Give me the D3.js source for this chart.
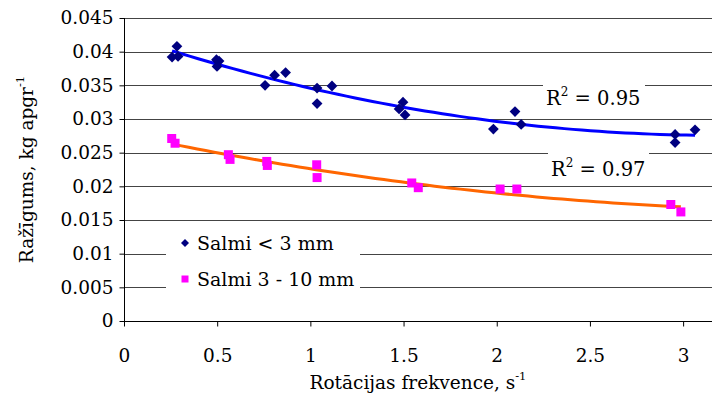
<!DOCTYPE html>
<html>
<head>
<meta charset="utf-8">
<script src="https://cdn.jsdelivr.net/npm/d3@7/dist/d3.min.js"></script>
<style>
  html, body { margin: 0; padding: 0; background: #fff; }
  svg { display: block; }
</style>
</head>
<body>
<svg id="chart" width="714" height="396"></svg>
<script>
// ---- data ----
const seriesNames = ["Salmi < 3 mm", "Salmi 3 - 10 mm"];

const xSmall = [0.258, 0.284, 0.290, 0.496, 0.510, 0.499, 0.757, 0.808, 0.867,
                1.036, 1.036, 1.116, 1.497, 1.476, 1.508, 1.982, 2.098, 2.131,
                2.957, 2.957, 3.064];
const ySmall = [0.0392, 0.0408, 0.0393, 0.0388, 0.0386, 0.0378, 0.0350, 0.0365, 0.0369,
                0.0346, 0.0323, 0.0349, 0.0325, 0.0315, 0.0306, 0.0285, 0.0311, 0.0292,
                0.0277, 0.0265, 0.0284];

const xLarge = [0.256, 0.274, 0.560, 0.569, 0.766, 0.769, 1.034, 1.036,
                1.544, 1.579, 2.018, 2.108, 2.934, 2.988];
const yLarge = [0.0271, 0.0264, 0.0247, 0.0240, 0.0237, 0.0231, 0.0232, 0.0213,
                0.0205, 0.0198, 0.0196, 0.0196, 0.0173, 0.0162];

const r2Labels = ["0.95", "0.97"];

const xTicks = [0, 0.5, 1, 1.5, 2, 2.5, 3];
const yTicks = [0, 0.005, 0.01, 0.015, 0.02, 0.025, 0.03, 0.035, 0.04, 0.045];

const xTitle = "Rotācijas frekvence, s";
const yTitle = "Ražīgums, kg apgr";

// ---- layout ----
const FONT = "DejaVu Serif";
const svg = d3.select("#chart");
const L = 124, R = 712, T = 18, B = 321;
const x = d3.scaleLinear().domain([0, 3.155]).range([L, R]);
const y = d3.scaleLinear().domain([0, 0.045]).range([B, T]);

// order-2 polynomial least-squares trendline (as in the source chart)
function polyFit2(xs, ys) {
  let s0 = xs.length, s1 = 0, s2 = 0, s3 = 0, s4 = 0, t0 = 0, t1 = 0, t2 = 0;
  xs.forEach((xi, i) => {
    const yi = ys[i];
    s1 += xi; s2 += xi * xi; s3 += xi ** 3; s4 += xi ** 4;
    t0 += yi; t1 += xi * yi; t2 += xi * xi * yi;
  });
  const M = [[s0, s1, s2, t0], [s1, s2, s3, t1], [s2, s3, s4, t2]];
  for (let c = 0; c < 3; c++) {
    for (let r = c + 1; r < 3; r++) {
      const f = M[r][c] / M[c][c];
      for (let k = c; k < 4; k++) M[r][k] -= f * M[c][k];
    }
  }
  const coef = [0, 0, 0];
  for (let r = 2; r >= 0; r--) {
    let s = M[r][3];
    for (let k = r + 1; k < 3; k++) s -= M[r][k] * coef[k];
    coef[r] = s / M[r][r];
  }
  return v => coef[0] + coef[1] * v + coef[2] * v * v;
}

// gridlines
svg.append("g").selectAll("line").data(yTicks.filter(d => d > 0)).join("line")
  .attr("x1", L).attr("x2", R)
  .attr("y1", d => Math.round(y(d)) + 0.5).attr("y2", d => Math.round(y(d)) + 0.5)
  .attr("stroke", "#444").attr("stroke-width", 1);

// R^2 labels on white boxes
const r2Pos = [{xl: 543, xr: 645, yt: 81, yb: 111, bx: 546, by: 105},
               {xl: 548, xr: 649, yt: 147, yb: 181, bx: 551, by: 176}];
r2Pos.forEach((p, i) => {
  svg.append("rect").attr("x", p.xl).attr("y", p.yt)
    .attr("width", p.xr - p.xl).attr("height", p.yb - p.yt).attr("fill", "#fff");
  const t = svg.append("text").attr("x", p.bx).attr("y", p.by).attr("font-size", 19.5)
    .attr("font-family", FONT);
  t.append("tspan").text("R");
  t.append("tspan").attr("dy", -9).attr("font-size", 12).text("2");
  t.append("tspan").attr("dy", 9).text(" = " + r2Labels[i]);
});

// trendlines
const line = d3.line().x(d => x(d[0])).y(d => y(d[1]));
function trend(xs, ys, color) {
  const f = polyFit2(xs, ys);
  const x0 = d3.min(xs), x1 = d3.max(xs);
  const pts = d3.range(0, 61).map(i => { const v = x0 + (x1 - x0) * i / 60; return [v, f(v)]; });
  svg.append("path").attr("d", line(pts)).attr("fill", "none")
    .attr("stroke", color).attr("stroke-width", 3);
}
trend(xSmall, ySmall, "#0000ff");
trend(xLarge, yLarge, "#ff6600");

// markers
const diamond = d3.symbol().type(d3.symbolSquare).size(58);
svg.append("g").selectAll("path").data(xSmall).join("path")
  .attr("d", diamond)
  .attr("transform", (d, i) => `translate(${x(d)},${y(ySmall[i])}) rotate(45)`)
  .attr("fill", "#000080");
const square = d3.symbol().type(d3.symbolSquare).size(81);
svg.append("g").selectAll("path").data(xLarge).join("path")
  .attr("d", square)
  .attr("transform", (d, i) => `translate(${x(d)},${y(yLarge[i])})`)
  .attr("fill", "#ff00ff");

// axes
const xAxis = d3.axisBottom(x).tickValues(xTicks).tickSize(5).tickPadding(22)
  .tickFormat(d => String(d));
const gx = svg.append("g").attr("transform", `translate(0,${B + 0.5})`).call(xAxis)
  .attr("font-family", FONT);
gx.select(".domain").attr("d", `M${L},0H${R}`).attr("stroke", "#000");
gx.selectAll(".tick line").attr("stroke", "#000");
gx.selectAll(".tick text").attr("font-size", 18.5).attr("fill", "#000");

const yAxis = d3.axisLeft(y).tickValues(yTicks).tickSize(5).tickPadding(6)
  .tickFormat(d => String(+d.toFixed(3)));
const gy = svg.append("g").attr("transform", `translate(${L + 0.5},0)`).call(yAxis)
  .attr("font-family", FONT);
gy.select(".domain").attr("d", `M0,${T}V${B}`).attr("stroke", "#000");
gy.selectAll(".tick line").attr("stroke", "#000");
gy.selectAll(".tick text").attr("font-size", 18.5).attr("fill", "#000");

// axis titles
const xt = svg.append("text").attr("x", (L + R) / 2).attr("y", 389)
  .attr("text-anchor", "middle").attr("font-size", 18.5).attr("font-family", FONT);
xt.append("tspan").text(xTitle);
xt.append("tspan").attr("dy", -9).attr("font-size", 11.5).text("-1");

const yt = svg.append("text").attr("transform", `translate(33,${(T + B) / 2}) rotate(-90)`)
  .attr("text-anchor", "middle").attr("font-size", 18.5).attr("font-family", FONT);
yt.append("tspan").text(yTitle);
yt.append("tspan").attr("dy", -9).attr("font-size", 11.5).text("-1");

// legend
const lg = svg.append("g");
lg.append("rect").attr("x", 166).attr("y", 224).attr("width", 194).attr("height", 70).attr("fill", "#fff");
const legSym = [d3.symbol().type(d3.symbolSquare).size(32), d3.symbol().type(d3.symbolSquare).size(49)];
const legColors = ["#000080", "#ff00ff"];
const legRot = [45, 0];
seriesNames.forEach((name, i) => {
  const cy = 243 + i * 36;
  lg.append("path").attr("d", legSym[i]).attr("fill", legColors[i])
    .attr("transform", `translate(185,${cy}) rotate(${legRot[i]})`);
  lg.append("text").attr("x", 197).attr("y", cy + 7).attr("font-size", 19)
    .attr("font-family", FONT).text(name);
});
</script>
</body>
</html>
